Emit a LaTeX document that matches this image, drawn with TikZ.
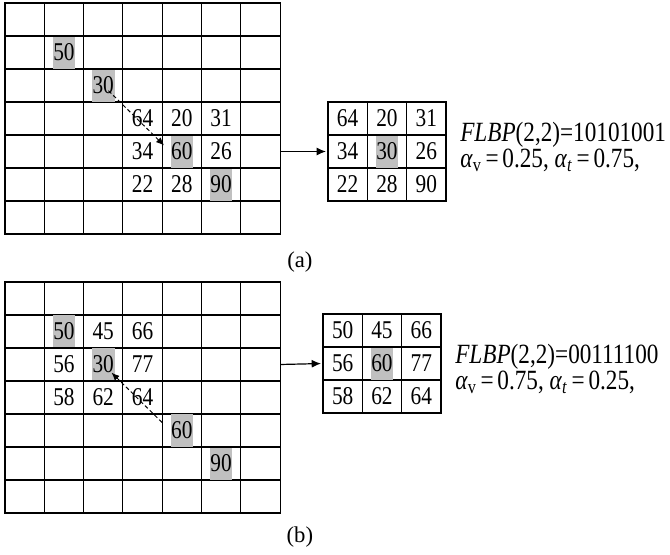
\documentclass[tikz,border=0pt]{standalone}
\usepackage{fontspec}
\setmainfont{Liberation Serif}
\usepackage{graphicx}
\usetikzlibrary{arrows.meta}
\definecolor{cellshade}{RGB}{192,192,192}
\newcommand{\tall}[1]{\scalebox{1}[1.2]{#1}}
\newcommand{\tightlines}{\lineskiplimit=-100pt\relax}

\begin{document}
\begin{tikzpicture}[x=29.475pt, y=-24.75pt,
    gridline/.style={line width=0.9pt, line cap=rect},
    num/.style={inner xsep=0.5pt, inner ysep=0pt, minimum height=24pt, font=\fontsize{16}{19}\selectfont},
    hot/.style={num, fill=cellshade},
    formula/.style={anchor=base west, inner sep=0pt, align=left,
        font=\fontsize{17.4}{19.5}\selectfont\tightlines},
    caption/.style={font=\fontsize{17}{20}\selectfont},
    jump/.style={dash pattern=on 3pt off 2pt, line width=0.7pt, -{Latex[length=6pt,width=5pt]}},
    feed/.style={line width=0.9pt, -{Latex[length=7pt,width=6pt]}}]
    \useasboundingbox (0,0) rectangle (17.048,16.788);

    % (a) image block
    \begin{scope}[shift={(0.127,0.091)}]
        \foreach \i in {0,...,7} {
            \draw[gridline] (\i,0) -- (\i,7);
            \draw[gridline] (0,\i) -- (7,\i);
        }
        \foreach \c/\r/\v in {3/3/64, 4/3/20, 5/3/31, 3/4/34, 5/4/26, 3/5/22, 4/5/28}
            \node[num] (a\v) at (\c+0.5,\r+0.5) {\tall{\v}};
        \foreach \c/\r/\v in {1/1/50, 2/2/30, 4/4/60, 5/5/90}
            \node[hot] (a\v) at (\c+0.5,\r+0.5) {\tall{\v}};
        \coordinate (aout) at (7,4.5);
    \end{scope}

    % (a) 3x3 window
    \begin{scope}[shift={(8.346,3.091)}]
        \foreach \i in {0,...,3} {
            \draw[gridline] (\i,0) -- (\i,3);
            \draw[gridline] (0,\i) -- (3,\i);
        }
        \foreach \c/\r/\v in {0/0/64, 1/0/20, 2/0/31, 0/1/34, 2/1/26, 0/2/22, 1/2/28, 2/2/90}
            \node[num] (sa\v) at (\c+0.5,\r+0.5) {\tall{\v}};
        \node[hot] (sa30) at (1.5,1.5) {\tall{30}};
        \coordinate (ain) at (0,1.5);
    \end{scope}

    \draw[jump, shorten <=5.5pt, shorten >=6.5pt] (a30.center) -- (a60.west);
    \draw[feed, shorten >=1.5pt] (aout) -- (ain);

    \node[formula] (aflbp) at (11.705,5.061)
        {\tall{\textit{FLBP}(2,2)=10101001}\\
         \tall{\textit{α}\textsubscript{v}\,=\,0.25, \textit{α}\textsubscript{\textit{t}}\,=\,0.75,}};
    \node[caption] (capa) at (7.63,7.94) {(a)};

    % (b) image block
    \begin{scope}[shift={(0.127,8.545)}]
        \foreach \i in {0,...,7} {
            \draw[gridline] (\i,0) -- (\i,7);
            \draw[gridline] (0,\i) -- (7,\i);
        }
        \foreach \c/\r/\v in {2/1/45, 3/1/66, 1/2/56, 3/2/77, 1/3/58, 2/3/62, 3/3/64}
            \node[num] (b\v) at (\c+0.5,\r+0.5) {\tall{\v}};
        \foreach \c/\r/\v in {1/1/50, 2/2/30, 4/4/60, 5/5/90}
            \node[hot] (b\v) at (\c+0.5,\r+0.5) {\tall{\v}};
        \coordinate (bout) at (7,2.5);
    \end{scope}

    % (b) 3x3 window
    \begin{scope}[shift={(8.219,9.515)}]
        \foreach \i in {0,...,3} {
            \draw[gridline] (\i,0) -- (\i,3);
            \draw[gridline] (0,\i) -- (3,\i);
        }
        \foreach \c/\r/\v in {0/0/50, 1/0/45, 2/0/66, 0/1/56, 2/1/77, 0/2/58, 1/2/62, 2/2/64}
            \node[num] (sb\v) at (\c+0.5,\r+0.5) {\tall{\v}};
        \node[hot] (sb60) at (1.5,1.5) {\tall{60}};
        \coordinate (bin) at (0,1.5);
    \end{scope}

    \draw[jump, shorten <=8.6pt, shorten >=8.7pt] (b60.west) -- (b30.center);
    \draw[feed, shorten >=1.5pt] (bout) -- (bin);

    \node[formula] (bflbp) at (11.578,11.788)
        {\tall{\textit{FLBP}(2,2)=00111100}\\
         \tall{\textit{α}\textsubscript{v}\,=\,0.75, \textit{α}\textsubscript{\textit{t}}\,=\,0.25,}};
    \node[caption] (capb) at (7.63,16.26) {(b)};
\end{tikzpicture}
\end{document}
